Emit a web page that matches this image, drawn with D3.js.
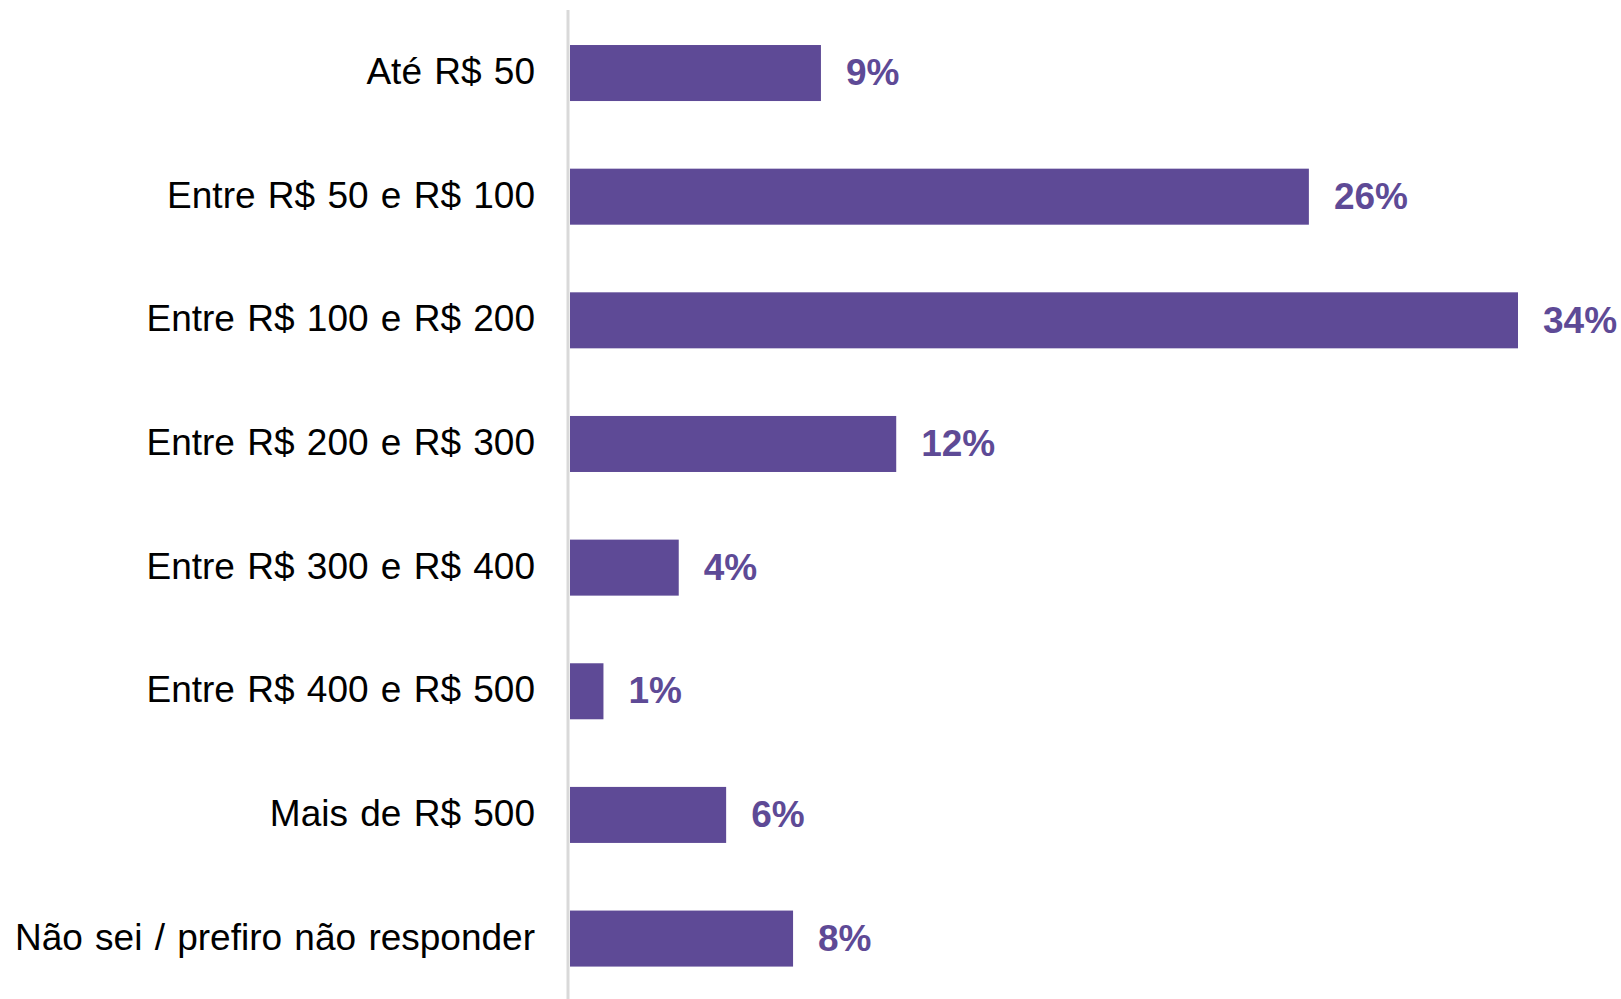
<!DOCTYPE html>
<html>
<head>
    <meta charset="utf-8">
    <title>Faixas de valor</title>
    <script src="https://d3js.org/d3.v7.min.js"></script>
    <style>
        body {
            margin: 0;
            background-color: #fff;
            font-family: "Liberation Sans", Arial, sans-serif;
        }
        svg { display: block; }
    </style>
</head>
<body>
    <div id="chart"></div>
    <script>
        // categorias (de cima para baixo)
        const categories = [
            'Até R$ 50',
            'Entre R$ 50 e R$ 100',
            'Entre R$ 100 e R$ 200',
            'Entre R$ 200 e R$ 300',
            'Entre R$ 300 e R$ 400',
            'Entre R$ 400 e R$ 500',
            'Mais de R$ 500',
            'Não sei / prefiro não responder'
        ];

        // valores (%)
        const values = [9.0, 26.5, 34.0, 11.7, 3.9, 1.2, 5.6, 8.0];

        // rótulos mostrados
        const valueLabels = ['9%', '26%', '34%', '12%', '4%', '1%', '6%', '8%'];

        const width = 1621;
        const height = 999;
        const barColor = '#5e4a96';

        const svg = d3.select('#chart')
            .append('svg')
            .attr('width', width)
            .attr('height', height);

        const x = d3.scaleLinear()
            .domain([0, 34])
            .range([570, 1518]);

        const y = d3.scaleBand()
            .domain(categories)
            .range([11.2, 1000.4])
            .paddingInner(0.547)
            .paddingOuter(0.2735);

        const data = categories.map((c, i) => ({ cat: c, value: values[i], label: valueLabels[i] }));

        // barras
        svg.selectAll('.bar')
            .data(data)
            .enter()
            .append('rect')
            .attr('class', 'bar')
            .attr('x', x(0))
            .attr('y', d => y(d.cat))
            .attr('width', d => x(d.value) - x(0))
            .attr('height', y.bandwidth())
            .attr('fill', barColor);

        // eixo vertical
        svg.append('line')
            .attr('x1', x(0) - 2)
            .attr('x2', x(0) - 2)
            .attr('y1', 10)
            .attr('y2', height)
            .attr('stroke', '#d9d9d9')
            .attr('stroke-width', 3);

        // rótulos das categorias
        svg.selectAll('.cat-label')
            .data(data)
            .enter()
            .append('text')
            .attr('class', 'cat-label')
            .attr('x', 535)
            .attr('y', d => y(d.cat) + y.bandwidth() / 2)
            .attr('dy', '0.3em')
            .attr('text-anchor', 'end')
            .attr('font-size', 37)
            .attr('word-spacing', 2)
            .attr('fill', '#000')
            .text(d => d.cat);

        // rótulos dos valores
        svg.selectAll('.val-label')
            .data(data)
            .enter()
            .append('text')
            .attr('class', 'val-label')
            .attr('x', d => x(d.value) + 25)
            .attr('y', d => y(d.cat) + y.bandwidth() / 2)
            .attr('dy', '0.33em')
            .attr('font-size', 37)
            .attr('font-weight', 'bold')
            .attr('fill', barColor)
            .text(d => d.label);
    </script>
</body>
</html>
